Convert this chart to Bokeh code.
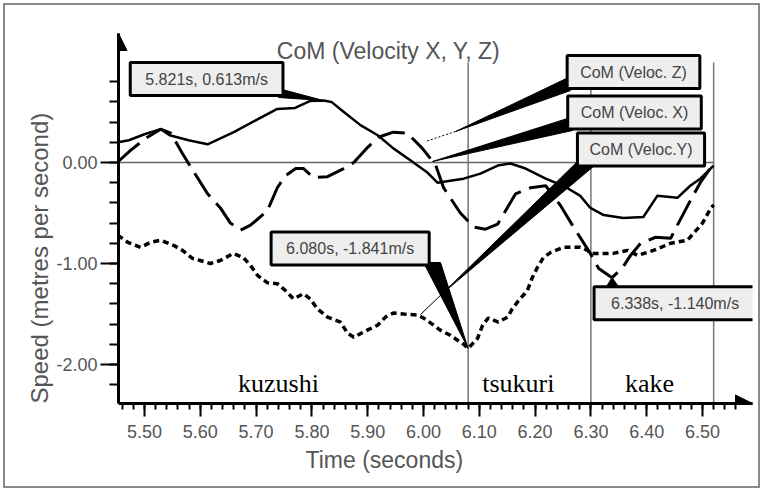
import numpy as np
from bokeh.plotting import figure
from bokeh.models import Range1d, FixedTicker, PrintfTickFormatter, Label, Arrow, NormalHead, Title
from bokeh.embed import file_html
from bokeh.resources import INLINE

# ---------------- data ----------------
# CoM velocity X (solid line)
x_time = [5.453, 5.472, 5.500, 5.529, 5.545, 5.579, 5.613, 5.660, 5.700, 5.738, 5.770, 5.797,
          5.821, 5.835, 5.855, 5.887, 5.918, 5.946, 5.977, 6.007, 6.025, 6.048, 6.072, 6.102,
          6.133, 6.156, 6.183, 6.219, 6.254, 6.281, 6.299, 6.323, 6.358, 6.394, 6.419, 6.455,
          6.478, 6.496, 6.520]
x_speed = [0.20, 0.22, 0.28, 0.33, 0.27, 0.22, 0.18, 0.30, 0.42, 0.53, 0.54, 0.61,
           0.613, 0.60, 0.51, 0.37, 0.27, 0.14, 0.02, -0.10, -0.20, -0.18, -0.16, -0.11,
           -0.03, -0.01, -0.06, -0.16, -0.24, -0.33, -0.45, -0.52, -0.55, -0.54, -0.33, -0.35,
           -0.23, -0.16, -0.03]

# CoM velocity Y (short dotted line)
y_time = [5.452, 5.470, 5.493, 5.511, 5.529, 5.552, 5.568, 5.586, 5.600, 5.618, 5.636, 5.659,
          5.677, 5.690, 5.703, 5.720, 5.738, 5.753, 5.767, 5.785, 5.797, 5.810, 5.828, 5.851,
          5.864, 5.875, 5.892, 5.918, 5.932, 5.946, 5.964, 5.989, 6.000, 6.018, 6.030, 6.048,
          6.061, 6.072, 6.080, 6.097, 6.106, 6.116, 6.134, 6.151, 6.159, 6.170, 6.186, 6.195,
          6.204, 6.215, 6.228, 6.251, 6.281, 6.294, 6.299, 6.340, 6.366, 6.384, 6.412, 6.443,
          6.473, 6.500, 6.514, 6.520]
y_speed = [-0.72, -0.79, -0.84, -0.79, -0.77, -0.82, -0.87, -0.95, -0.97, -1.00, -0.97, -0.90,
           -0.94, -1.02, -1.12, -1.19, -1.20, -1.27, -1.35, -1.30, -1.35, -1.45, -1.53, -1.58,
           -1.69, -1.73, -1.68, -1.61, -1.53, -1.49, -1.50, -1.51, -1.54, -1.61, -1.66, -1.71,
           -1.76, -1.80, -1.841, -1.74, -1.61, -1.54, -1.58, -1.53, -1.45, -1.37, -1.27, -1.14,
           -1.04, -0.94, -0.89, -0.84, -0.84, -0.87, -0.90, -0.90, -0.87, -0.92, -0.87, -0.80,
           -0.77, -0.60, -0.46, -0.42]

# CoM velocity Z (long dashed line)
z_time = [5.453, 5.475, 5.502, 5.529, 5.547, 5.568, 5.579, 5.613, 5.636, 5.654, 5.672, 5.690,
          5.720, 5.738, 5.753, 5.771, 5.785, 5.803, 5.828, 5.857, 5.875, 5.900, 5.919, 5.946,
          5.971, 5.998, 6.022, 6.036, 6.066, 6.090, 6.111, 6.133, 6.165, 6.192, 6.219, 6.246,
          6.269, 6.299, 6.314, 6.338, 6.357, 6.371, 6.389, 6.416, 6.443, 6.455, 6.478, 6.496,
          6.520]
z_speed = [0.01, 0.12, 0.24, 0.33, 0.29, 0.09, -0.01, -0.31, -0.45, -0.60, -0.67, -0.62,
           -0.48, -0.25, -0.13, -0.06, -0.06, -0.15, -0.14, -0.06, 0.00, 0.15, 0.25, 0.30,
           0.29, 0.14, -0.03, -0.25, -0.50, -0.64, -0.66, -0.61, -0.31, -0.25, -0.23, -0.43,
           -0.64, -0.90, -1.05, -1.14, -1.04, -0.92, -0.80, -0.74, -0.75, -0.62, -0.38, -0.20,
           -0.01]

x_ticks = [5.50, 5.60, 5.70, 5.80, 5.90, 6.00, 6.10, 6.20, 6.30, 6.40, 6.50]
y_ticks = [-2.00, -1.00, 0.00]

phase_bounds = [6.08, 6.30, 6.52]
phase_names = ["kuzushi", "tsukuri", "kake"]
phase_label_time = [5.74, 6.17, 6.405]

peak_x = (5.821, 0.613)
min_y = (6.080, -1.841)
min_z = (6.338, -1.140)

legend_names = ["CoM (Veloc. Z)", "CoM (Veloc. X)", "CoM (Veloc.Y)"]

title_text = "CoM (Velocity X, Y, Z)"
x_label = "Time (seconds)"
y_label = "Speed (metres per second)"

# ------------- layout helpers (page pixels -> data) -------------
def sx(px):
    return 5.5 + (px - 144) / 558.0

def sy(py):
    return (162 - py) / 101.0

def dxp(d):
    return d / 558.0

def dyp(d):
    return d / 101.0

FONT = "Liberation Sans"
GREY = "#555555"
OFF = 5  # canvas offset inside the grey picture frame

p = figure(width=757, height=485, output_backend="svg", toolbar_location=None,
           x_range=Range1d(sx(118), sx(752)), y_range=Range1d(sy(403), sy(33)),
           min_border_left=118 - OFF, min_border_right=OFF + 757 - 752,
           min_border_top=33 - OFF, min_border_bottom=OFF + 485 - 403)
p.outline_line_color = None
p.grid.visible = False
p.background_fill_color = "white"
p.border_fill_color = "white"
p.styles = {"border": "2px solid #8a8a8a", "margin": "3px 0px 0px 3px"}

xa = p.xaxis[0]
xa.ticker = FixedTicker(ticks=x_ticks, minor_ticks=[round(5.46 + 0.02 * i, 2) for i in range(56)])
xa.formatter = PrintfTickFormatter(format="%.2f")
ya = p.yaxis[0]
ya.ticker = FixedTicker(ticks=y_ticks, minor_ticks=[round(-2.2 + 0.2 * i, 1) for i in range(16)])
ya.formatter = PrintfTickFormatter(format="%.2f")
for ax in (xa, ya):
    ax.axis_line_width = 3
    ax.axis_line_color = "black"
    ax.major_tick_line_width = 2
    ax.minor_tick_line_width = 2
    ax.major_tick_line_color = "black"
    ax.minor_tick_line_color = "black"
    ax.major_tick_in = 0
    ax.minor_tick_in = 0
    ax.major_label_text_font = FONT
    ax.major_label_text_font_size = "18px"
    ax.major_label_text_color = GREY
xa.major_tick_out = 13
xa.minor_tick_out = 6
xa.major_label_standoff = 8
ya.major_tick_out = 18
ya.minor_tick_out = 9
ya.major_label_standoff = 3

# axis titles placed in the side panels
p.add_layout(Title(text=x_label, align="left", offset=187, standoff=8, text_font=FONT,
                   text_font_size="23px", text_color=GREY, text_font_style="normal"), "below")
p.add_layout(Title(text=y_label, align="left", offset=0, standoff=2, text_font=FONT,
                   text_font_size="24px", text_color=GREY, text_font_style="normal"), "left")

# reference lines
p.segment(x0=[sx(118)], y0=[0], x1=[phase_bounds[-1]], y1=[0], line_color="#666666", line_width=1.5)
p.segment(x0=phase_bounds, y0=[sy(62)] * 3, x1=phase_bounds, y1=[sy(403)] * 3,
          line_color="#777777", line_width=1.5)

# series
p.line(x_time, x_speed, line_color="black", line_width=2.5, line_join="round")
p.line(z_time, z_speed, line_color="black", line_width=3, line_dash="28 9")
p.line(y_time, y_speed, line_color="black", line_width=3.5, line_dash="6 4")

# axis arrow heads
p.add_layout(Arrow(end=NormalHead(size=17, fill_color="black", line_color="black"),
                   x_start=sx(118), y_start=sy(70), x_end=sx(118), y_end=sy(33),
                   line_color="black", line_width=3))
p.add_layout(Arrow(end=NormalHead(size=17, fill_color="black", line_color="black"),
                   x_start=sx(700), y_start=sy(403), x_end=sx(752), y_end=sy(403),
                   line_color="black", line_width=3))

def wedge(b1, b2, tip):
    p.patch(x=[sx(b1[0]), sx(b2[0]), tip[0]], y=[sy(b1[1]), sy(b2[1]), tip[1]],
            fill_color="black", line_color="black", line_width=1)

# data callout pointers
wedge((278, 88), (278, 97), peak_x)
wedge((423, 262), (440, 262), min_y)
wedge((604, 289), (620, 289), min_z)

# legend pointers
wedge((570, 76), (570, 90), (sx(455), sy(131)))
wedge((570, 117), (572, 130), (sx(432), sy(161)))
wedge((578, 160), (600, 160), (sx(443), sy(292)))
p.line([sx(455), sx(425)], [sy(131), sy(141)], line_color="black", line_width=1, line_dash="2 2")
p.line([sx(443), sx(420)], [sy(292), sy(314)], line_color="black", line_width=1)

def box(x, y, text, padx):
    p.add_layout(Label(x=x, y=y, text=text, text_font=FONT, text_font_size="16px",
                       text_color="#444444", text_align="center", text_baseline="middle",
                       background_fill_color="#eeeeee", border_line_color="black",
                       border_line_width=3, padding=dict(x=padx, y=8)))

def fmt(pt):
    return f"{pt[0]:.3f}s, {pt[1]:.3f}m/s"

box(peak_x[0] + dxp(-117), peak_x[1] + dyp(21.5), fmt(peak_x), 15)
box(min_y[0] + dxp(-118), min_y[1] + dyp(100), fmt(min_y), 15)
box(min_z[0] + dxp(63), min_z[1] + dyp(-25.5), fmt(min_z), 17)

legend_centers = [(633, 71.5), (634, 112), (640.5, 149)]
for name, (cx, cy), padx in zip(legend_names, legend_centers, [13, 13, 12]):
    box(sx(cx), sy(cy), name, padx)

# phase labels
for t, name in zip(phase_label_time, phase_names):
    p.add_layout(Label(x=t, y=sy(382.5), text=name, text_font="Liberation Serif",
                       text_font_size="26px", text_color="black", text_align="center",
                       text_baseline="alphabetic"))

# chart title
p.add_layout(Label(x=sx(388), y=sy(50), text=title_text, text_font=FONT, text_font_size="23px",
                   text_color=GREY, text_align="center", text_baseline="alphabetic"))

open("out.html", "w").write(file_html(p, INLINE))
